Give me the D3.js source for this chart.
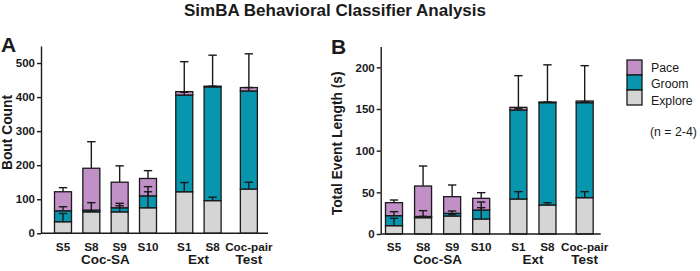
<!DOCTYPE html>
<html>
<head>
<meta charset="utf-8">
<script src="https://cdn.jsdelivr.net/npm/d3@7"></script>
<style>
  html, body { margin: 0; padding: 0; background: #fff; }
  svg { display: block; font-family: "Liberation Sans", Arial, sans-serif; }
</style>
</head>
<body>
<div id="chart"></div>
<script>
// Categorias (sesiones) y posicion de cada barra en "ranuras"
const sessions = ["S5", "S8", "S9", "S10", "S1", "S8", "Coc-pair"]
const slots = [0, 1, 2, 3, 4.28, 5.28, 6.56]
const groups = [
  { label: "Coc-SA", at: 1.5 },
  { label: "Ext", at: 4.78 },
  { label: "Test", at: 6.56 }
]
const behaviors = ["Explore", "Groom", "Pace"]

// Panel A: Bout Count
const boutExplore = [34, 63, 63, 75, 122, 96, 130]
const boutGroom = [32, 5, 12, 35, 284, 334, 288]
const boutPace = [56, 123, 75, 51, 10, 2, 10]
const boutExploreSem = [24, 3, 18, 47, 27, 10, 20]
const boutGroomSem = [12, 22, 13, 27, 8, 2, 10]
const boutPaceSem = [12, 78, 48, 23, 88, 91, 99]

// Panel B: Total Event Length (s)
const lengthExplore = [10, 19.6, 21.6, 18, 42, 34.8, 43.6]
const lengthGroom = [12, 1.4, 3.2, 10.8, 106.8, 122.8, 114]
const lengthPace = [15.6, 36.6, 20, 14, 3.2, 0.8, 2]
const lengthExploreSem = [8.8, 1.5, 2, 13.6, 8.8, 2.7, 7.2]
const lengthGroomSem = [4.8, 7, 2.8, 9.6, 1.5, 0.8, 1]
const lengthPaceSem = [3.2, 24, 14, 6.8, 38, 44.6, 42.4]

const yTicksA = [0, 100, 200, 300, 400, 500]
const yTicksB = [0, 50, 100, 150, 200]

const colors = { Explore: "#d5d5d5", Groom: "#0896ae", Pace: "#c190c6" }
const ink = "#1a1a1a"

const svg = d3.select("#chart").append("svg")
  .attr("width", 700)
  .attr("height", 271)

svg.append("rect").attr("width", 700).attr("height", 271).attr("fill", "#fff")

// Titulo
svg.append("text")
  .attr("x", 335)
  .attr("y", 16)
  .attr("text-anchor", "middle")
  .attr("font-size", "17px")
  .attr("font-weight", "bold")
  .attr("fill", ink)
  .text("SimBA Behavioral Classifier Analysis")

function drawPanel(cfg) {
  const g = svg.append("g")
  const y = d3.scaleLinear().domain(cfg.yDomain).range([cfg.y0, cfg.yTop])
  const x = d3.scaleLinear().domain([0, 3]).range(cfg.xRange)
  const barW = 17

  // Series apiladas
  const rows = sessions.map((s, i) => ({
    i,
    Explore: cfg.explore[i],
    Groom: cfg.groom[i],
    Pace: cfg.pace[i]
  }))
  const sems = { Explore: cfg.exploreSem, Groom: cfg.groomSem, Pace: cfg.paceSem }
  const stack = d3.stack().keys(behaviors)(rows)

  g.append("g")
    .selectAll("g")
    .data(stack)
    .join("g")
    .attr("fill", d => colors[d.key])
    .selectAll("rect")
    .data(d => d)
    .join("rect")
    .attr("x", d => x(slots[d.data.i]) - barW / 2)
    .attr("width", barW)
    .attr("y", d => y(d[1]))
    .attr("height", d => y(d[0]) - y(d[1]))
    .attr("stroke", ink)
    .attr("stroke-width", 1.3)

  // Barras de error (solo hacia arriba)
  const errs = []
  stack.forEach(layer => {
    layer.forEach(d => {
      errs.push({ xc: x(slots[d.data.i]), top: d[1], sem: sems[layer.key][d.data.i] })
    })
  })
  const eg = g.append("g").attr("stroke", ink).attr("stroke-width", 1.4)
  eg.selectAll("line.stem")
    .data(errs)
    .join("line")
    .attr("class", "stem")
    .attr("x1", d => d.xc).attr("x2", d => d.xc)
    .attr("y1", d => y(d.top)).attr("y2", d => y(d.top + d.sem))
  eg.selectAll("line.cap")
    .data(errs)
    .join("line")
    .attr("class", "cap")
    .attr("x1", d => d.xc - 4.2).attr("x2", d => d.xc + 4.2)
    .attr("y1", d => y(d.top + d.sem)).attr("y2", d => y(d.top + d.sem))

  // Eje Y
  const yAxis = g.append("g")
    .attr("transform", `translate(${cfg.xAxis},0)`)
    .call(d3.axisLeft(y).tickValues(cfg.yTicks).tickSize(4).tickSizeOuter(0).tickPadding(2))
  yAxis.select(".domain").attr("stroke", ink).attr("stroke-width", 1.4)
  yAxis.selectAll(".tick line").attr("stroke", ink).attr("stroke-width", 1.4)
  yAxis.selectAll(".tick text")
    .attr("font-size", "11.5px")
    .attr("font-weight", "bold")
    .attr("fill", ink)
    .attr("font-family", "Liberation Sans, Arial, sans-serif")

  // Eje X
  g.append("line")
    .attr("x1", cfg.xAxis).attr("x2", cfg.xEnd)
    .attr("y1", y(0)).attr("y2", y(0))
    .attr("stroke", ink).attr("stroke-width", 1.4)

  g.append("g")
    .selectAll("text")
    .data(sessions)
    .join("text")
    .attr("x", (d, i) => x(slots[i]))
    .attr("y", 250.5)
    .attr("text-anchor", "middle")
    .attr("font-size", "11.7px")
    .attr("font-weight", "bold")
    .attr("fill", ink)
    .text(d => d)

  g.append("g")
    .selectAll("text")
    .data(groups)
    .join("text")
    .attr("x", d => x(d.at))
    .attr("y", 263.5)
    .attr("text-anchor", "middle")
    .attr("font-size", "13.5px")
    .attr("font-weight", "bold")
    .attr("fill", ink)
    .text(d => d.label)

  // Etiqueta del eje Y
  g.append("text")
    .attr("transform", `translate(${cfg.labelX},${cfg.labelY}) rotate(-90)`)
    .attr("text-anchor", "middle")
    .attr("font-size", "13.8px")
    .attr("font-weight", "bold")
    .attr("fill", ink)
    .text(cfg.yLabel)

  // Letra del panel
  g.append("text")
    .attr("x", cfg.letterX)
    .attr("y", cfg.letterY)
    .attr("font-size", "21px")
    .attr("font-weight", "bold")
    .attr("fill", ink)
    .text(cfg.letter)
}

drawPanel({
  letter: "A", letterX: 1, letterY: 52,
  explore: boutExplore, groom: boutGroom, pace: boutPace,
  exploreSem: boutExploreSem, groomSem: boutGroomSem, paceSem: boutPaceSem,
  yDomain: [0, 550], yTicks: yTicksA, y0: 233.3, yTop: 46,
  xAxis: 41, xEnd: 268, xRange: [63, 148],
  yLabel: "Bout Count", labelX: 12, labelY: 132.5
})

drawPanel({
  letter: "B", letterX: 331, letterY: 54,
  explore: lengthExplore, groom: lengthGroom, pace: lengthPace,
  exploreSem: lengthExploreSem, groomSem: lengthGroomSem, paceSem: lengthPaceSem,
  yDomain: [0, 225], yTicks: yTicksB, y0: 234, yTop: 46.5,
  xAxis: 380.7, xEnd: 600.7, xRange: [394, 481.2],
  yLabel: "Total Event Length (s)", labelX: 341.5, labelY: 143.3
})

// Leyenda
const legendItems = ["Pace", "Groom", "Explore"]
const legend = svg.append("g")
legend.selectAll("rect")
  .data(legendItems)
  .join("rect")
  .attr("x", 627)
  .attr("y", (d, i) => 60 + i * 15)
  .attr("width", 15)
  .attr("height", 15)
  .attr("fill", d => colors[d])
  .attr("stroke", ink)
  .attr("stroke-width", 1.3)
legend.selectAll("text")
  .data(legendItems)
  .join("text")
  .attr("x", 651)
  .attr("y", (d, i) => 71.5 + i * 16.5)
  .attr("font-size", "12.3px")
  .attr("fill", ink)
  .text(d => d)
legend.append("text")
  .attr("x", 650)
  .attr("y", 136)
  .attr("font-size", "12.3px")
  .attr("fill", ink)
  .text("(n = 2-4)")
</script>
</body>
</html>
